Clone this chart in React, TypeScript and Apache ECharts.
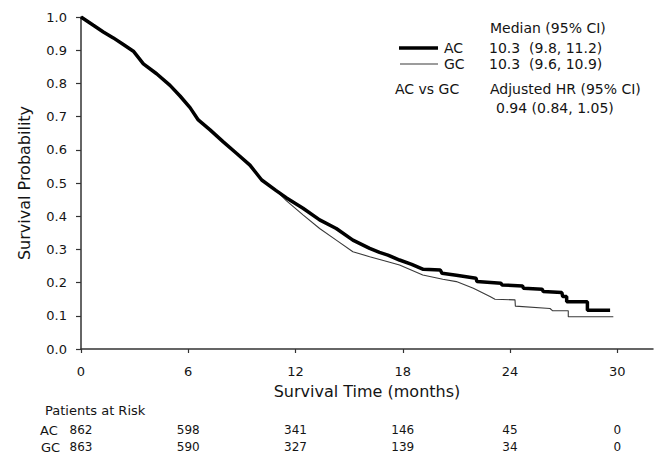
import { useEffect, useRef } from "react";
import * as echarts from "echarts";

// Kaplan-Meier curves (time in months, survival probability)
const acTime = [0, 0.69, 1.25, 1.81, 2.37, 2.93, 3.49, 4.23, 4.98, 5.54, 6.1, 6.56, 7.22, 7.96, 8.71, 9.45, 10.11, 10.9, 11.5, 12.42, 13.35, 14.28, 15.21, 16.15, 16.7, 17.17, 17.82, 18.5, 19.15, 20.1, 20.2, 21.0, 22.1, 22.15, 23.5, 23.55, 24.7, 24.75, 25.8, 25.86, 26.9, 26.95, 27.17, 27.17, 28.33, 28.33, 29.6];
const acSurv = [1.0, 0.975, 0.955, 0.937, 0.917, 0.897, 0.859, 0.829, 0.794, 0.762, 0.727, 0.69, 0.66, 0.624, 0.589, 0.554, 0.509, 0.478, 0.455, 0.424, 0.389, 0.363, 0.328, 0.303, 0.291, 0.283, 0.268, 0.255, 0.24, 0.238, 0.228, 0.222, 0.213, 0.203, 0.198, 0.193, 0.19, 0.183, 0.18, 0.173, 0.17, 0.158, 0.158, 0.142, 0.142, 0.117, 0.117];
const gcTime = [0, 0.69, 1.25, 1.81, 2.37, 2.93, 3.49, 4.23, 4.98, 5.54, 6.1, 6.56, 7.22, 7.96, 8.71, 9.45, 10.11, 10.9, 11.5, 12.42, 13.35, 14.28, 15.21, 16.15, 17.17, 17.82, 19.12, 20.24, 21.0, 21.95, 22.88, 23.16, 24.28, 24.3, 26.24, 26.39, 27.26, 27.26, 29.78];
const gcSurv = [1.0, 0.975, 0.955, 0.937, 0.917, 0.897, 0.859, 0.829, 0.794, 0.762, 0.727, 0.69, 0.66, 0.624, 0.589, 0.554, 0.509, 0.478, 0.446, 0.404, 0.363, 0.328, 0.293, 0.278, 0.263, 0.253, 0.223, 0.21, 0.203, 0.183, 0.158, 0.15, 0.148, 0.129, 0.122, 0.115, 0.115, 0.097, 0.097];

// Axis ticks and patients-at-risk table
const xTicks = [0, 6, 12, 18, 24, 30];
const acAtRisk = [862, 598, 341, 146, 45, 0];
const gcAtRisk = [863, 590, 327, 139, 34, 0];

const FONT = "'DejaVu Sans', 'Liberation Sans', Arial, sans-serif";
const INK = "#141414";

export default function App() {
  const ref = useRef<HTMLDivElement>(null);

  useEffect(() => {
    if (!ref.current) return;
    const chart = echarts.init(ref.current, null, { renderer: "svg" });

    const acData = acTime.map((t, i) => [t, acSurv[i]]);
    const gcData = gcTime.map((t, i) => [t, gcSurv[i]]);

    const riskAxis = (counts: number[], offset: number) => ({
      type: "value",
      gridIndex: 0,
      position: "bottom",
      offset,
      min: 0,
      max: 32,
      axisLine: { show: false },
      axisTick: { show: false },
      splitLine: { show: false },
      axisLabel: {
        customValues: xTicks,
        margin: 0,
        verticalAlign: "middle",
        color: INK,
        fontFamily: FONT,
        fontSize: 12,
        formatter: (v: number) => {
          const i = xTicks.indexOf(Math.round(v));
          return i >= 0 ? String(counts[i]) : "";
        },
      },
    });

    const txt = (text: string, x: number, y: number, size = 14, align = "left") => ({
      type: "text",
      x,
      y,
      style: {
        text,
        fill: INK,
        fontFamily: FONT,
        fontSize: size,
        align,
        verticalAlign: "middle",
      },
    });

    chart.setOption({
      animation: false,
      backgroundColor: "#ffffff",
      grid: { left: 81, right: 9, top: 17, bottom: 106 },
      xAxis: [
        {
          type: "value",
          min: 0,
          max: 32,
          name: "Survival Time (months)",
          nameLocation: "middle",
          nameGap: 34,
          nameTextStyle: { color: INK, fontFamily: FONT, fontSize: 16 },
          axisLine: { show: true, lineStyle: { color: "#333", width: 1.5 } },
          axisTick: { show: true, customValues: xTicks, length: 4, lineStyle: { color: "#333", width: 1.2 } },
          splitLine: { show: false },
          axisLabel: {
            customValues: xTicks,
            margin: 16,
            color: INK,
            fontFamily: FONT,
            fontSize: 13,
          },
        },
        riskAxis(acAtRisk, 81),
        riskAxis(gcAtRisk, 98),
      ],
      yAxis: {
        type: "value",
        min: 0,
        max: 1,
        interval: 0.1,
        name: "Survival Probability",
        nameLocation: "middle",
        nameGap: 49,
        nameTextStyle: { color: INK, fontFamily: FONT, fontSize: 16 },
        axisLine: { show: true, lineStyle: { color: "#333", width: 1.5 } },
        axisTick: { show: true, length: 5, lineStyle: { color: "#333", width: 1.2 } },
        splitLine: { show: false },
        axisLabel: {
          margin: 14,
          color: INK,
          fontFamily: FONT,
          fontSize: 13,
          formatter: (v: number) => v.toFixed(1),
        },
      },
      series: [
        {
          name: "GC",
          type: "line",
          xAxisIndex: 0,
          data: gcData,
          showSymbol: false,
          symbol: "none",
          lineStyle: { color: "#3a3a3a", width: 1.1 },
          z: 2,
        },
        {
          name: "AC",
          type: "line",
          xAxisIndex: 0,
          data: acData,
          showSymbol: false,
          symbol: "none",
          lineStyle: { color: "#000000", width: 3.5 },
          z: 3,
        },
      ],
      graphic: [
        txt("Median (95% CI)", 490, 28),
        { type: "line", shape: { x1: 399, y1: 48, x2: 438, y2: 48 }, style: { stroke: "#000", lineWidth: 3.5 } },
        txt("AC", 444, 48),
        txt("10.3  (9.8, 11.2)", 489, 48),
        { type: "line", shape: { x1: 400, y1: 64, x2: 438, y2: 64 }, style: { stroke: "#3a3a3a", lineWidth: 1.1 } },
        txt("GC", 444, 64),
        txt("10.3  (9.6, 10.9)", 489, 64),
        txt("AC vs GC", 395, 89),
        txt("Adjusted HR (95% CI)", 490, 89),
        txt("0.94 (0.84, 1.05)", 496, 108),
        txt("Patients at Risk", 45, 410, 13),
        txt("AC", 40, 430, 13),
        txt("GC", 41, 447, 13),
      ],
    });

    return () => chart.dispose();
  }, []);

  return (
    <div
      ref={ref}
      style={{ position: "fixed", left: 0, top: 0, width: 662, height: 455, background: "#fff" }}
    />
  );
}
